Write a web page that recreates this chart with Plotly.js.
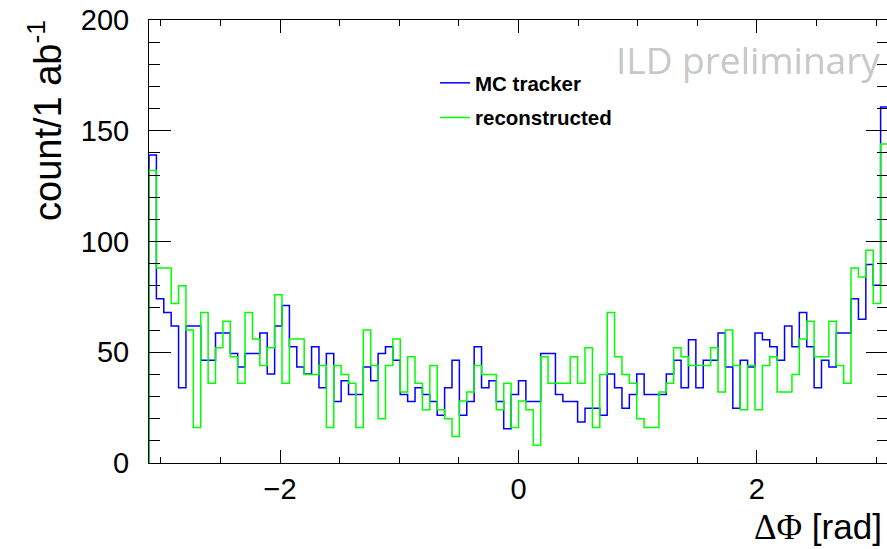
<!DOCTYPE html>
<html>
<head>
<meta charset="utf-8">
<script src="https://cdn.plot.ly/plotly-3.0.1.min.js"></script>
<style>
  html, body { margin: 0; padding: 0; overflow: hidden; background: #fff; }
  #plot { width: 889px; height: 549px; }
</style>
</head>
<body>
<div id="plot"></div>
<script>
// Histogram binning: 100 bins of delta-phi between -3.1 and 3.1 rad
const binLow = -3.1;
const binHigh = 3.1;

// Bin contents, count per 1 ab^-1
const mcTracker = [
  139.0, 74.2, 68.0, 61.8, 34.0, 61.8, 61.8, 46.4, 46.4, 58.7,
  58.7, 49.4, 43.3, 49.4, 49.4, 58.7, 40.2, 61.8, 71.1, 52.5,
  43.3, 40.2, 52.5, 34.0, 49.4, 27.8, 37.1, 30.9, 30.9, 43.3,
  37.1, 49.4, 52.5, 46.4, 30.9, 27.8, 34.0, 30.9, 27.8, 21.6,
  34.0, 46.4, 21.6, 27.8, 52.5, 34.0, 37.1, 27.8, 15.5, 30.9,
  37.1, 27.8, 27.8, 49.4, 49.4, 30.9, 27.8, 27.8, 18.5, 24.7,
  24.7, 21.6, 40.2, 34.0, 24.7, 30.9, 40.2, 30.9, 30.9, 30.9,
  40.2, 46.4, 34.0, 55.6, 34.0, 46.4, 46.4, 58.7, 43.3, 24.7,
  46.4, 43.3, 58.7, 55.6, 52.5, 46.4, 61.8, 52.5, 68.0, 52.5,
  34.0, 46.4, 43.3, 58.7, 58.7, 74.2, 64.9, 89.6, 80.3, 160.7
];

const reconstructed = [
  132, 88, 88, 72, 80, 60, 16, 68, 36, 52,
  64, 48, 36, 68, 56, 44, 52, 76, 36, 56,
  56, 40, 40, 44, 16, 44, 40, 36, 16, 60,
  44, 20, 44, 56, 32, 48, 36, 24, 44, 24,
  20, 12, 28, 32, 44, 40, 40, 24, 36, 16,
  28, 24, 8, 48, 36, 36, 36, 48, 36, 52,
  16, 40, 68, 48, 40, 36, 20, 16, 16, 32,
  36, 52, 48, 44, 44, 44, 52, 32, 60, 44,
  24, 44, 24, 44, 48, 32, 32, 40, 56, 64,
  48, 48, 64, 44, 36, 88, 84, 96, 72, 144
];

const seriesNames = ['MC tracker', 'reconstructed'];
const seriesColors = ['#0000ff', '#00ff00'];

// Turn bin contents into a closed step outline (ROOT "hist" style)
function histOutline(values) {
  const n = values.length;
  const w = (binHigh - binLow) / n;
  const xs = [binLow], ys = [0];
  for (let k = 0; k < n; k++) {
    xs.push(binLow + k * w);
    ys.push(values[k]);
  }
  xs.push(binHigh); ys.push(values[n - 1]);
  xs.push(binHigh); ys.push(0);
  return { x: xs, y: ys };
}

const traces = [mcTracker, reconstructed].map((vals, i) => {
  const o = histOutline(vals);
  return {
    type: 'scatter',
    mode: 'lines',
    x: o.x,
    y: o.y,
    name: seriesNames[i],
    legendgroup: 'g' + i,
    line: { shape: 'hv', color: seriesColors[i], width: 1.5 },
    hoverinfo: 'skip'
  };
});

const W = 889, H = 549;
const M = { l: 149, r: 1, t: 20, b: 86 };
const pw = W - M.l - M.r, ph = H - M.t - M.b;
// pixel -> paper helpers for annotation placement
const px = v => (v - M.l) / pw;
const py = v => (H - M.b - v) / ph;

const tickFont = { family: 'Liberation Sans, Arial, sans-serif', size: 29, color: '#000' };

const layout = {
  width: W,
  height: H,
  margin: M,
  paper_bgcolor: '#fff',
  plot_bgcolor: '#fff',
  showlegend: true,
  legend: {
    x: px(435), y: py(63), xanchor: 'left', yanchor: 'top',
    bgcolor: 'rgba(0,0,0,0)',
    tracegroupgap: 5,
    font: { family: 'Liberation Sans, Arial, sans-serif', size: 20.5, weight: 'bold', color: '#000' }
  },
  xaxis: {
    range: [binLow, binHigh],
    showgrid: false, zeroline: false,
    showline: true, linecolor: '#000', linewidth: 1, mirror: 'allticks',
    ticks: 'inside', ticklen: 13, tickwidth: 1, tickcolor: '#000',
    tickmode: 'linear', tick0: 0, dtick: 2,
    minor: { ticks: 'inside', ticklen: 6, dtick: 0.5, tick0: 0, tickcolor: '#000', showgrid: false },
    tickfont: tickFont
  },
  yaxis: {
    range: [0, 200],
    showgrid: false, zeroline: false,
    showline: true, linecolor: '#000', linewidth: 1, mirror: 'allticks',
    ticks: 'inside', ticklen: 22, tickwidth: 1, tickcolor: '#000',
    tickmode: 'linear', tick0: 0, dtick: 50,
    ticklabelstandoff: 13,
    minor: { ticks: 'inside', ticklen: 11, dtick: 10, tick0: 0, tickcolor: '#000', showgrid: false },
    tickfont: tickFont
  },
  annotations: [
    {
      text: 'count/1 ab<sup>-1</sup>',
      xref: 'paper', yref: 'paper', x: px(45), y: py(121),
      xanchor: 'center', yanchor: 'middle', textangle: -90, showarrow: false,
      font: { family: 'Liberation Sans, Arial, sans-serif', size: 38, color: '#000' }
    },
    {
      text: '<span style="font-family:Liberation Serif, serif">ΔΦ</span> [rad]',
      xref: 'paper', yref: 'paper', x: px(884), y: py(527),
      xanchor: 'right', yanchor: 'middle', showarrow: false,
      font: { family: 'Liberation Sans, Arial, sans-serif', size: 35, color: '#000' }
    },
    {
      text: 'ILD preliminary',
      xref: 'paper', yref: 'paper', x: px(614), y: py(60),
      xanchor: 'left', yanchor: 'middle', showarrow: false,
      font: { family: 'Open Sans, sans-serif', size: 37, color: '#c8c8c8' }
    }
  ]
};

Plotly.newPlot('plot', traces, layout, { staticPlot: true, displayModeBar: false });
</script>
</body>
</html>
